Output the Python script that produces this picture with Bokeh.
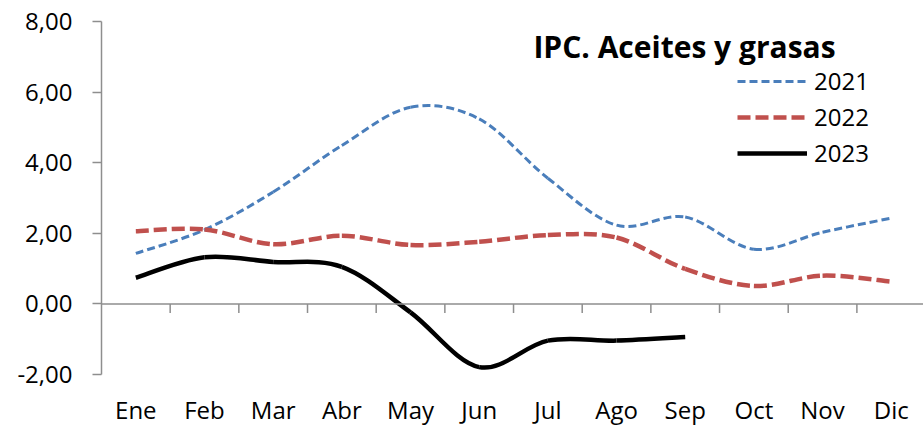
import numpy as np
from bokeh.plotting import figure
from bokeh.models import Range1d, FixedTicker, Span, Legend, LegendItem, Label, ColumnDataSource
from bokeh.embed import file_html
from bokeh.resources import INLINE

months = ["Ene", "Feb", "Mar", "Abr", "May", "Jun", "Jul", "Ago", "Sep", "Oct", "Nov", "Dic"]
v2021 = [1.43, 2.10, 3.17, 4.49, 5.57, 5.24, 3.56, 2.23, 2.46, 1.55, 2.03, 2.43]
v2022 = [2.06, 2.11, 1.69, 1.93, 1.67, 1.76, 1.95, 1.88, 0.99, 0.51, 0.80, 0.63]
v2023 = [0.74, 1.32, 1.19, 1.05, -0.24, -1.79, -1.04, -1.04, -0.94]
y_ticks = [-2, 0, 2, 4, 6, 8]
y_tick_labels = ["-2,00", "0,00", "2,00", "4,00", "6,00", "8,00"]
title_text = "IPC. Aceites y grasas"

FONT = "Open Sans"
AXIS_GRAY = "#8e8e8e"


def bezier_source(vals):
    y = np.asarray(vals, dtype=float)
    x = np.arange(len(y)) + 0.5
    n = len(y)
    xp = np.concatenate([[x[0]], x, [x[-1]]])
    yp = np.concatenate([[y[0]], y, [y[-1]]])
    x0, y0, x1, y1, cx0, cy0, cx1, cy1 = [], [], [], [], [], [], [], []
    for i in range(n - 1):
        pm, p0, p1, p2 = i, i + 1, i + 2, i + 3
        x0.append(xp[p0]); y0.append(yp[p0])
        x1.append(xp[p1]); y1.append(yp[p1])
        cx0.append(xp[p0] + (xp[p1] - xp[pm]) / 6.0)
        cy0.append(yp[p0] + (yp[p1] - yp[pm]) / 6.0)
        cx1.append(xp[p1] - (xp[p2] - xp[p0]) / 6.0)
        cy1.append(yp[p1] - (yp[p2] - yp[p0]) / 6.0)
    return ColumnDataSource(dict(x0=x0, y0=y0, x1=x1, y1=y1, cx0=cx0, cy0=cy0, cx1=cx1, cy1=cy1))


p = figure(width=923, height=428, output_backend="svg", toolbar_location=None,
           x_range=Range1d(0, 11.97), y_range=Range1d(-2, 8),
           min_border_left=101, min_border_right=0, min_border_top=21, min_border_bottom=53)
p.outline_line_color = None
p.grid.visible = False
p.background_fill_color = "white"
p.border_fill_color = "white"

# y axis
ya = p.yaxis[0]
ya.ticker = FixedTicker(ticks=y_ticks, minor_ticks=[])
ya.major_label_overrides = {t: l for t, l in zip(y_ticks, y_tick_labels)}
ya.axis_line_color = AXIS_GRAY
ya.axis_line_width = 1.5
ya.major_tick_line_color = AXIS_GRAY
ya.major_tick_line_width = 1.5
ya.major_tick_out = 9
ya.major_tick_in = 0
ya.minor_tick_line_color = None
ya.major_label_standoff = 20
ya.major_label_text_font = FONT
ya.major_label_text_font_size = "24px"
ya.major_label_text_color = "black"

# month labels at the bottom
centers = [i + 0.5 for i in range(len(months))]
xa = p.xaxis[0]
xa.ticker = FixedTicker(ticks=centers, minor_ticks=[])
xa.major_label_overrides = {c: m for c, m in zip(centers, months)}
xa.axis_line_color = None
xa.major_tick_line_color = None
xa.minor_tick_line_color = None
xa.major_tick_out = 0
xa.major_tick_in = 0
xa.major_label_standoff = 18
xa.major_label_text_font = FONT
xa.major_label_text_font_size = "24px"
xa.major_label_text_color = "black"

# horizontal category axis line at y = 0 with boundary ticks
p.add_layout(Span(location=0, dimension="width", line_color=AXIS_GRAY, line_width=1.5))
bounds = np.arange(1, len(months) + 1)
p.segment(x0=bounds, x1=bounds, y0=0, y1=-0.255, line_color=AXIS_GRAY, line_width=1.5)

r21 = p.bezier(x0="x0", y0="y0", x1="x1", y1="y1", cx0="cx0", cy0="cy0", cx1="cx1", cy1="cy1",
               source=bezier_source(v2021), line_color="#4a7ebb", line_width=3, line_dash="8 4")
r22 = p.bezier(x0="x0", y0="y0", x1="x1", y1="y1", cx0="cx0", cy0="cy0", cx1="cx1", cy1="cy1",
               source=bezier_source(v2022), line_color="#c0504d", line_width=4.5, line_dash="13 5")
r23 = p.bezier(x0="x0", y0="y0", x1="x1", y1="y1", cx0="cx0", cy0="cy0", cx1="cx1", cy1="cy1",
               source=bezier_source(v2023), line_color="black", line_width=4.5)

legend = Legend(items=[LegendItem(label="2021", renderers=[r21]),
                       LegendItem(label="2022", renderers=[r22]),
                       LegendItem(label="2023", renderers=[r23])],
                location=(636, 205), padding=0, margin=0, spacing=3,
                glyph_width=70, glyph_height=30, label_height=30, label_standoff=7,
                label_text_font=FONT, label_text_font_size="24px", label_text_color="black",
                background_fill_color=None, border_line_color=None)
p.add_layout(legend, "center")

p.add_layout(Label(x=8.49, y=7.28, text=title_text, text_align="center", text_baseline="alphabetic",
                   text_font=FONT, text_font_size="30px", text_font_style="bold",
                   text_color="black"))

open("out.html", "w").write(file_html(p, INLINE))
